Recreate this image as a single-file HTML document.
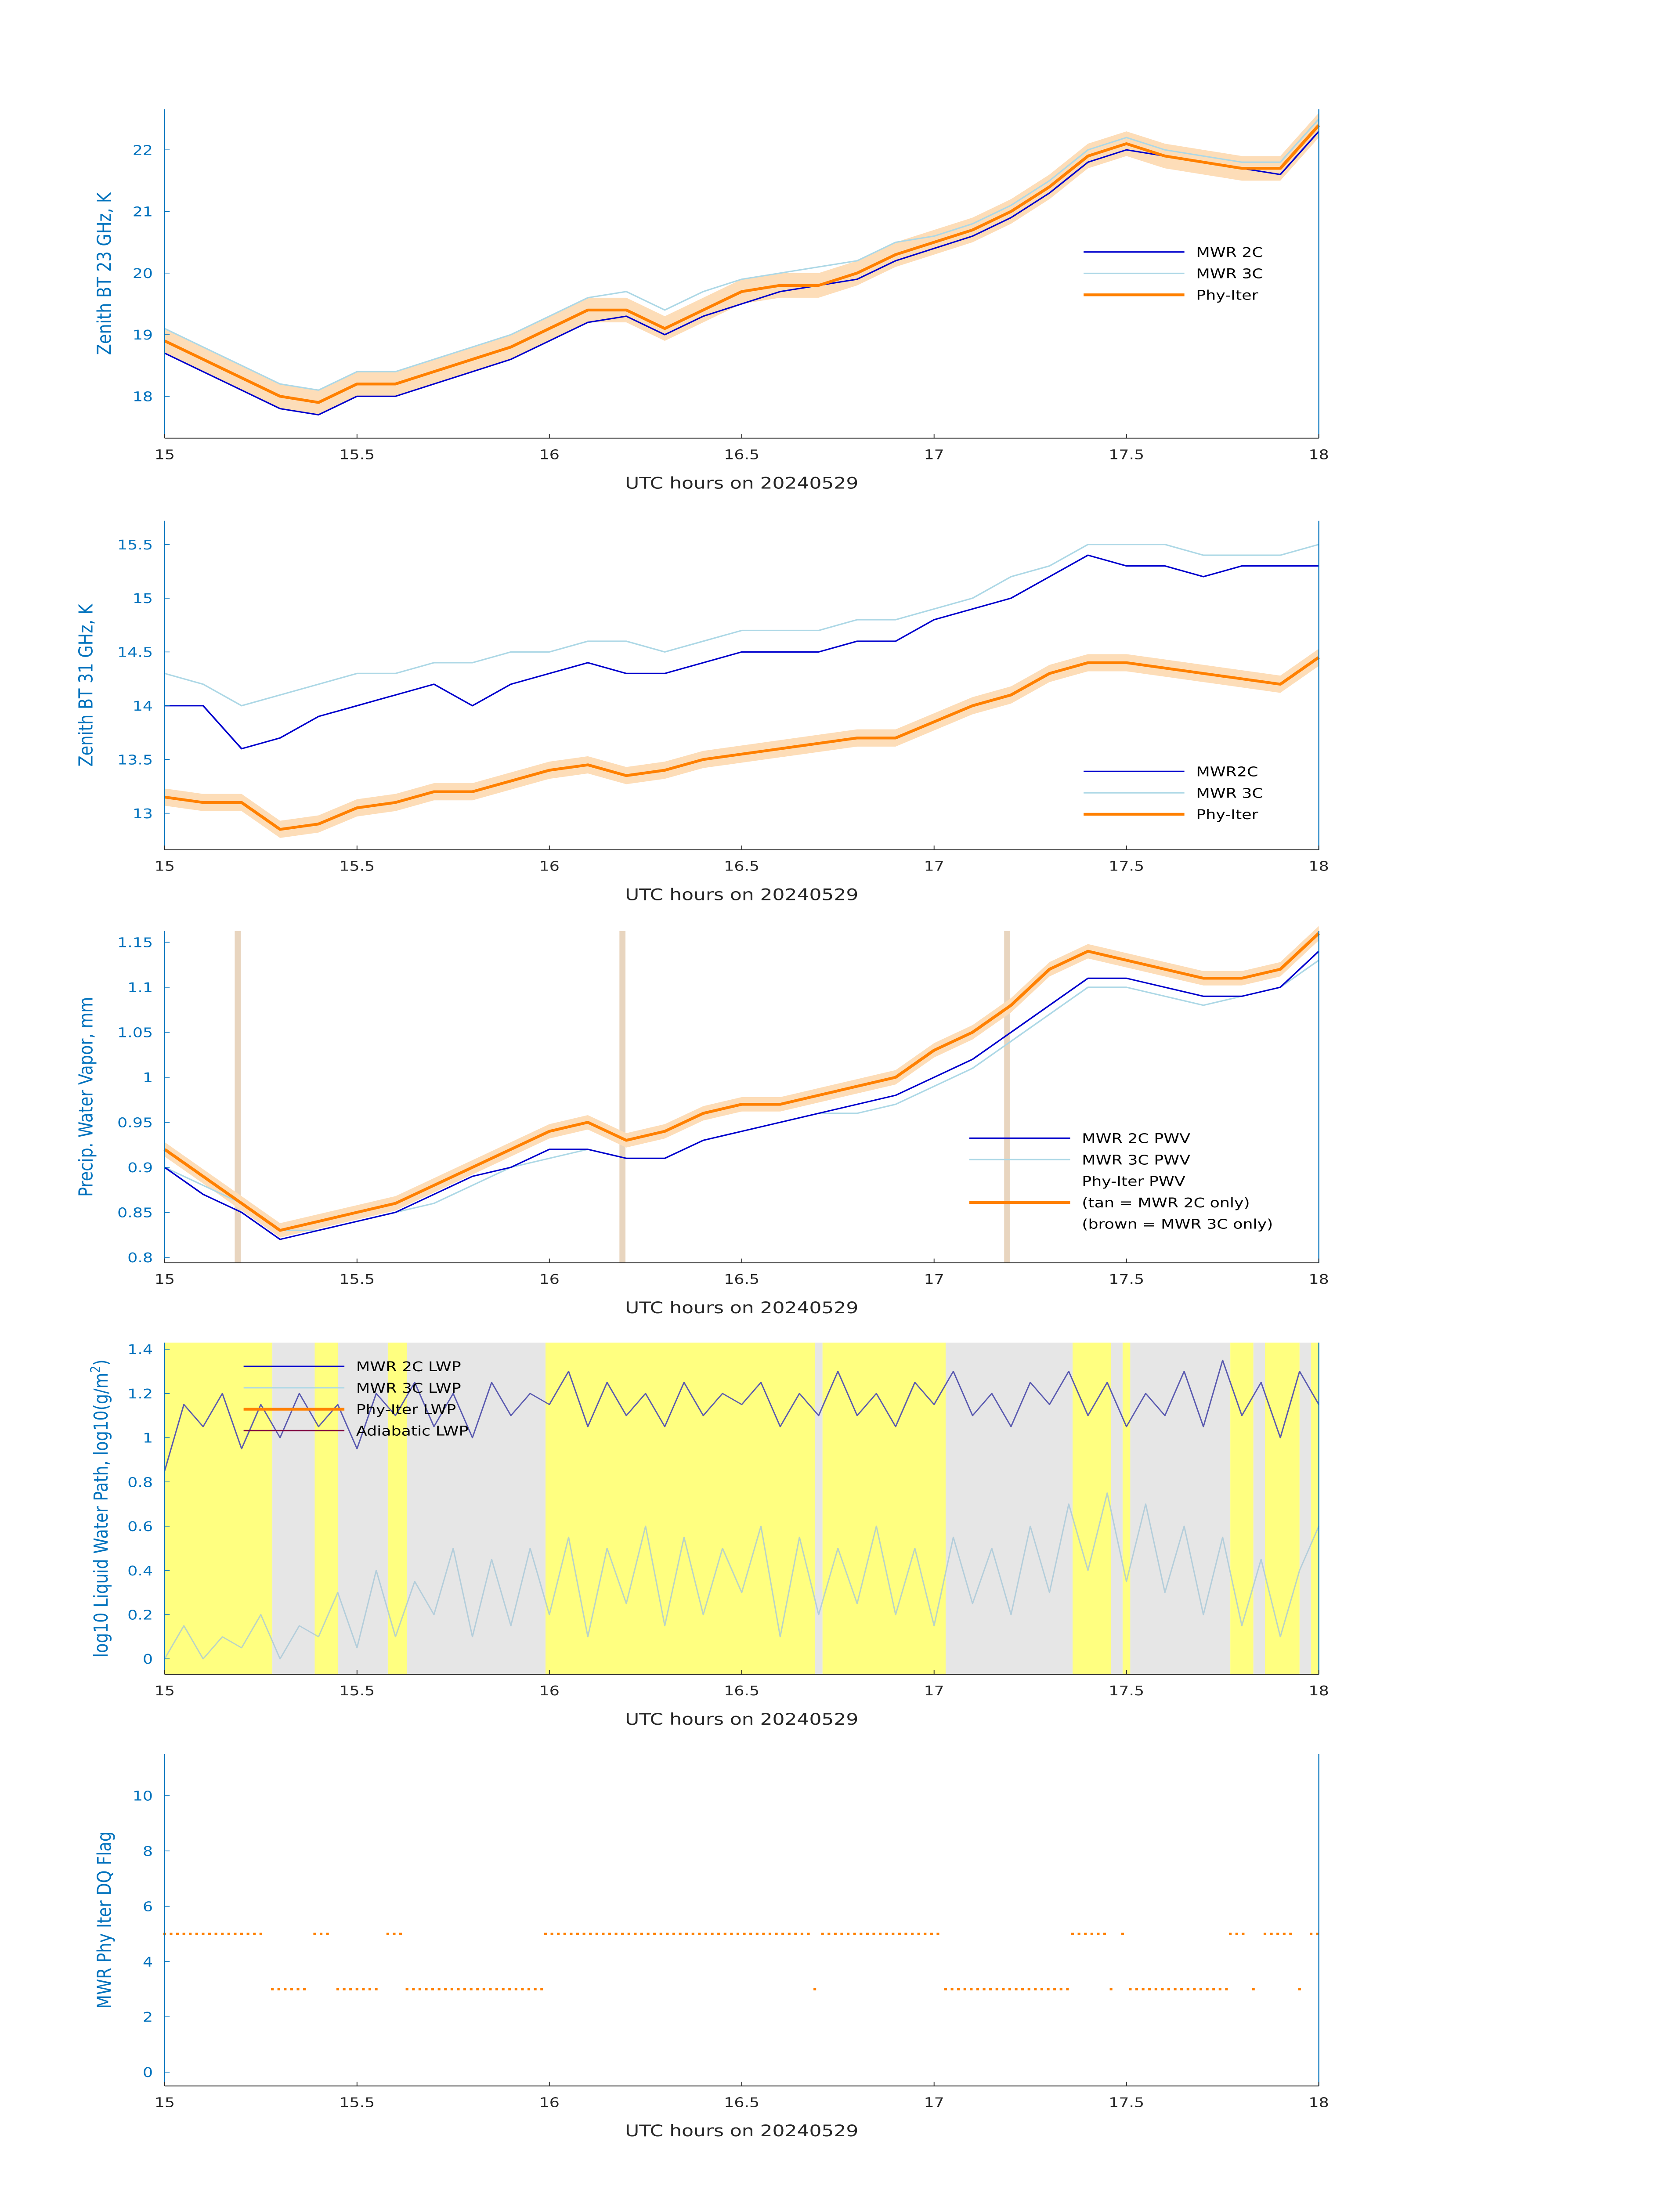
<!DOCTYPE html>
<html><head><meta charset="utf-8">
<style>html,body{margin:0;padding:0;background:#fff;overflow:hidden;width:100%;height:100%}svg{display:block;width:100vw;height:100vh}text{font-family:"DejaVu Sans","Liberation Sans",sans-serif}</style>
</head><body>
<svg id="fig" xmlns="http://www.w3.org/2000/svg" viewBox="0 0 1000 1568.6" preserveAspectRatio="none"></svg>
<script>
const times = [15,15.1,15.2,15.3,15.4,15.5,15.6,15.7,15.8,15.9,16,16.1,16.2,16.3,16.4,16.5,16.6,16.7,16.8,16.9,17,17.1,17.2,17.3,17.4,17.5,17.6,17.7,17.8,17.9,18];
const lwpTimes = [15,15.05,15.1,15.15,15.2,15.25,15.3,15.35,15.4,15.45,15.5,15.55,15.6,15.65,15.7,15.75,15.8,15.85,15.9,15.95,16,16.05,16.1,16.15,16.2,16.25,16.3,16.35,16.4,16.45,16.5,16.55,16.6,16.65,16.7,16.75,16.8,16.85,16.9,16.95,17,17.05,17.1,17.15,17.2,17.25,17.3,17.35,17.4,17.45,17.5,17.55,17.6,17.65,17.7,17.75,17.8,17.85,17.9,17.95,18];
const bt23_2c = [18.7,18.4,18.1,17.8,17.7,18.0,18.0,18.2,18.4,18.6,18.9,19.2,19.3,19.0,19.3,19.5,19.7,19.8,19.9,20.2,20.4,20.6,20.9,21.3,21.8,22.0,21.9,21.8,21.7,21.6,22.3];
const bt23_3c = [19.1,18.8,18.5,18.2,18.1,18.4,18.4,18.6,18.8,19.0,19.3,19.6,19.7,19.4,19.7,19.9,20.0,20.1,20.2,20.5,20.6,20.8,21.1,21.5,22.0,22.2,22.0,21.9,21.8,21.8,22.5];
const bt23_phy = [18.9,18.6,18.3,18.0,17.9,18.2,18.2,18.4,18.6,18.8,19.1,19.4,19.4,19.1,19.4,19.7,19.8,19.8,20.0,20.3,20.5,20.7,21.0,21.4,21.9,22.1,21.9,21.8,21.7,21.7,22.4];
const bt31_2c = [14.0,14.0,13.6,13.7,13.9,14.0,14.1,14.2,14.0,14.2,14.3,14.4,14.3,14.3,14.4,14.5,14.5,14.5,14.6,14.6,14.8,14.9,15.0,15.2,15.4,15.3,15.3,15.2,15.3,15.3,15.3];
const bt31_3c = [14.3,14.2,14.0,14.1,14.2,14.3,14.3,14.4,14.4,14.5,14.5,14.6,14.6,14.5,14.6,14.7,14.7,14.7,14.8,14.8,14.9,15.0,15.2,15.3,15.5,15.5,15.5,15.4,15.4,15.4,15.5];
const bt31_phy = [13.15,13.1,13.1,12.85,12.9,13.05,13.1,13.2,13.2,13.3,13.4,13.45,13.35,13.4,13.5,13.55,13.6,13.65,13.7,13.7,13.85,14.0,14.1,14.3,14.4,14.4,14.35,14.3,14.25,14.2,14.45];
const pwv_2c = [0.9,0.87,0.85,0.82,0.83,0.84,0.85,0.87,0.89,0.90,0.92,0.92,0.91,0.91,0.93,0.94,0.95,0.96,0.97,0.98,1.0,1.02,1.05,1.08,1.11,1.11,1.10,1.09,1.09,1.10,1.14];
const pwv_3c = [0.9,0.88,0.86,0.83,0.83,0.84,0.85,0.86,0.88,0.90,0.91,0.92,0.91,0.91,0.93,0.94,0.95,0.96,0.96,0.97,0.99,1.01,1.04,1.07,1.10,1.10,1.09,1.08,1.09,1.10,1.13];
const pwv_phy = [0.92,0.89,0.86,0.83,0.84,0.85,0.86,0.88,0.90,0.92,0.94,0.95,0.93,0.94,0.96,0.97,0.97,0.98,0.99,1.00,1.03,1.05,1.08,1.12,1.14,1.13,1.12,1.11,1.11,1.12,1.16];
const lwp_2c = [0.85,1.15,1.05,1.2,0.95,1.15,1.0,1.2,1.05,1.15,0.95,1.2,1.1,1.25,1.05,1.2,1.0,1.25,1.1,1.2,1.15,1.3,1.05,1.25,1.1,1.2,1.05,1.25,1.1,1.2,1.15,1.25,1.05,1.2,1.1,1.3,1.1,1.2,1.05,1.25,1.15,1.3,1.1,1.2,1.05,1.25,1.15,1.3,1.1,1.25,1.05,1.2,1.1,1.3,1.05,1.35,1.1,1.25,1.0,1.3,1.15];
const lwp_3c = [0.0,0.15,0.0,0.1,0.05,0.2,0.0,0.15,0.1,0.3,0.05,0.4,0.1,0.35,0.2,0.5,0.1,0.45,0.15,0.5,0.2,0.55,0.1,0.5,0.25,0.6,0.15,0.55,0.2,0.5,0.3,0.6,0.1,0.55,0.2,0.5,0.25,0.6,0.2,0.5,0.15,0.55,0.25,0.5,0.2,0.6,0.3,0.7,0.4,0.75,0.35,0.7,0.3,0.6,0.2,0.55,0.15,0.45,0.1,0.4,0.6];
const markerTimes = [15.19,16.19,17.19];
const flagSegStart = [15.0,15.28,15.39,15.45,15.58,15.63,15.99,16.69,16.71,17.03,17.36,17.46,17.49,17.51,17.77,17.83,17.86,17.95,17.98];
const flagSegEnd   = [15.26,15.37,15.43,15.56,15.62,15.98,16.68,16.70,17.02,17.35,17.45,17.47,17.50,17.76,17.81,17.84,17.93,17.96,18.0];
const flagSegVal   = [5,3,5,3,5,3,5,3,5,3,5,3,5,3,5,3,5,3,5];
const xTicks = [15,15.5,16,16.5,17,17.5,18];

const NS="http://www.w3.org/2000/svg";
const svg=document.getElementById('fig');
const X0=98,X1=785;
const xs=t=>X0+(t-15)/3*(X1-X0);
function el(tag,attrs,parent){const e=document.createElementNS(NS,tag);for(const k in attrs)e.setAttribute(k,attrs[k]);(parent||svg).appendChild(e);return e;}
function txt(s,attrs,parent){const e=el('text',attrs,parent);e.textContent=s;return e;}

function panel(name,top,bot,ymin,ymax,yticks,ylabel){
  const g=el('g',{});
  
  
  const ys=v=>bot-(v-ymin)/(ymax-ymin)*(bot-top);
  return {g,ys,top,bot,yticks,ylabel};
}
function axes(p){
  const g=p.g;
  const xa=el('line',{x1:X0,y1:p.bot,x2:X1,y2:p.bot,stroke:'#262626','stroke-width':0.6},g);
  
  
  const ya=el('line',{x1:X0,y1:p.top,x2:X0,y2:p.bot,stroke:'#0072BD','stroke-width':0.6},g);
  
  
  el('line',{x1:X1,y1:p.top,x2:X1,y2:p.bot,stroke:'#0072BD','stroke-width':0.6},g);
  for(const t of xTicks){
    el('line',{x1:xs(t),y1:p.bot,x2:xs(t),y2:p.bot-3,stroke:'#262626','stroke-width':0.5},g);
    const tl=txt(String(t),{x:xs(t),y:p.bot+15,'font-size':9.5,'text-anchor':'middle',fill:'#262626'},g);
    
    
  }
  for(const v of p.yticks){
    el('line',{x1:X0,y1:p.ys(v),x2:X0+3,y2:p.ys(v),stroke:'#0072BD','stroke-width':0.5},g);
    const tl=txt(String(v),{x:X0-7,y:p.ys(v)+3.5,'font-size':9.5,'text-anchor':'end',fill:'#0072BD'},g);
    
    
  }
  const xl=txt('UTC hours on 20240529',{x:(X0+X1)/2,y:p.bot+36,'font-size':11.5,'text-anchor':'middle',fill:'#262626'},g);
  
  
  const cy=(p.top+p.bot)/2;
  const yl=el('text',{x:0,y:0,'font-size':11.5,'text-anchor':'middle',fill:'#0072BD',transform:`translate(${p.ylabelX||68},${cy}) rotate(-90)`},g);
  yl.innerHTML=p.ylabel;
  
  
}
function line(p,tt,vals,color,w,name,op){
  const d=tt.map((t,i)=>(i?'L':'M')+xs(t).toFixed(2)+','+p.ys(vals[i]).toFixed(2)).join('');
  const e=el('path',{d,fill:'none',stroke:color,'stroke-width':w,'stroke-linejoin':'round','stroke-opacity':op||1},p.g);
  
  
}
function band(p,vals,u,name){
  let d=times.map((t,i)=>(i?'L':'M')+xs(t).toFixed(2)+','+p.ys(vals[i]+u).toFixed(2)).join('');
  for(let i=times.length-1;i>=0;i--)d+='L'+xs(times[i]).toFixed(2)+','+p.ys(vals[i]-u).toFixed(2);
  const e=el('path',{d:d+'Z',fill:'#FDDDB8',stroke:'none'},p.g);
  
  
}
function legend(p,x,y,items,name){
  const g=el('g',{},p.g);
  
  
  items.forEach((it,i)=>{
    const yy=y+i*15.3;
    if(it[1])el('line',{x1:x,y1:yy,x2:x+60,y2:yy,stroke:it[1],'stroke-width':it[2]},g);
    const t=txt(it[0],{x:x+67,y:yy+3.5,'font-size':9.5,fill:'#000'},g);
    
    
  });
}

// Panel 1
const p1=panel('panel-bt23',78,313,17.32,22.66,[18,19,20,21,22],'Zenith BT 23 GHz, K');
p1.ylabelX=66;
band(p1,bt23_phy,0.2,'phy-iter-uncertainty-band');
line(p1,times,bt23_3c,'#ADD8E6',1,'mwr-3c-line');
line(p1,times,bt23_2c,'#0000CD',1,'mwr-2c-line');
line(p1,times,bt23_phy,'#FF8000',2,'phy-iter-line');
axes(p1);
legend(p1,645,180,[['MWR 2C','#0000CD',1],['MWR 3C','#ADD8E6',1],['Phy-Iter','#FF8000',2]],'legend-bt23');

// Panel 2
const p2=panel('panel-bt31',372,607,12.66,15.72,[13,13.5,14,14.5,15,15.5],'Zenith BT 31 GHz, K');
p2.ylabelX=55;
band(p2,bt31_phy,0.08,'phy-iter-uncertainty-band');
line(p2,times,bt31_3c,'#ADD8E6',1,'mwr-3c-line');
line(p2,times,bt31_2c,'#0000CD',1,'mwr-2c-line');
line(p2,times,bt31_phy,'#FF8000',2,'phy-iter-line');
axes(p2);
legend(p2,645,551,[['MWR2C','#0000CD',1],['MWR 3C','#ADD8E6',1],['Phy-Iter','#FF8000',2]],'legend-bt31');

// Panel 3
const p3=panel('panel-pwv',665,902,0.794,1.1625,[0.8,0.85,0.9,0.95,1,1.05,1.1,1.15],'Precip. Water Vapor, mm');
p3.ylabelX=55;
for(const t of markerTimes){
  const r=el('rect',{x:xs(t)-1.8,y:665,width:3.6,height:237,fill:'#E8D5BF'},p3.g);
  
  
}
band(p3,pwv_phy,0.008,'phy-iter-uncertainty-band');
line(p3,times,pwv_3c,'#ADD8E6',1,'mwr-3c-pwv-line');
line(p3,times,pwv_2c,'#0000CD',1,'mwr-2c-pwv-line');
line(p3,times,pwv_phy,'#FF8000',2,'phy-iter-pwv-line');
axes(p3);
legend(p3,577,813,[['MWR 2C PWV','#0000CD',1],['MWR 3C PWV','#ADD8E6',1],['Phy-Iter PWV',null,0],['(tan = MWR 2C only)','#FF8000',2],['(brown = MWR 3C only)',null,0]],'legend-pwv');

// Panel 4
const p4=panel('panel-lwp',959,1196,-0.07,1.43,[0,0.2,0.4,0.6,0.8,1,1.2,1.4],'log10 Liquid Water Path, log10(g/m<tspan baseline-shift="super" font-size="8">2</tspan>)');
p4.ylabelX=64;
flagSegStart.forEach((s,i)=>{
  const e=i<flagSegStart.length-1?flagSegStart[i+1]:18;
  const r=el('rect',{x:xs(s),y:959,width:xs(e)-xs(s),height:237,fill:flagSegVal[i]===5?'#FFFF80':'#E6E6E6'},p4.g);
  
  
});
line(p4,lwpTimes,lwp_3c,'#A8C8D8',0.8,'mwr-3c-lwp-line',0.8);
line(p4,lwpTimes,lwp_2c,'#5A5AB0',0.8,'mwr-2c-lwp-line');
axes(p4);
legend(p4,145,976,[['MWR 2C LWP','#0000CD',1],['MWR 3C LWP','#ADD8E6',1],['Phy-Iter LWP','#FF8000',2],['Adiabatic LWP','#800040',1]],'legend-lwp');

// Panel 5
const p5=panel('panel-dq-flag',1253,1490,-0.5,11.5,[0,2,4,6,8,10],'MWR Phy Iter DQ Flag');
p5.ylabelX=66;
flagSegStart.forEach((s,i)=>{
  for(let t=s;t<=flagSegEnd[i]+1e-6;t+=1/60){
    const c=el('rect',{x:xs(t)-0.8,y:p5.ys(flagSegVal[i])-0.8,width:1.6,height:1.6,fill:'#FF8000'},p5.g);
    
    
  }
});
axes(p5);
</script>
</body></html>
